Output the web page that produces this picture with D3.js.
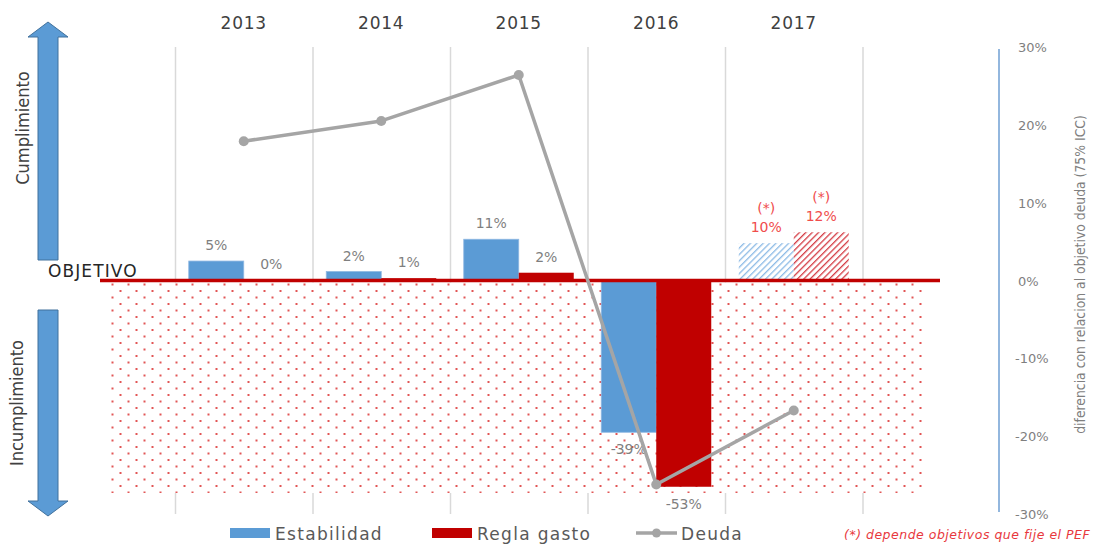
<!DOCTYPE html>
<html>
<head>
<meta charset="utf-8">
<script src="https://cdn.jsdelivr.net/npm/d3@7"></script>
<style>
  html, body { margin: 0; padding: 0; background: #fff; }
  svg { display: block; }
</style>
</head>
<body>
<div id="grafico"></div>
<script>
// datos
const anios = ["2013", "2014", "2015", "2016", "2017"];
const estabilidad = [5.0, 2.3, 10.6, -39, 9.6];
const reglaGasto = [0.1, 0.6, 2.0, -53, 12.4];
const deuda = [17.9, 20.5, 26.4, -26.2, -16.7];
const previsto = [false, false, false, false, true];
const ticksDeuda = [30, 20, 10, 0, -10, -20, -30];
const series = ["Estabilidad", "Regla gasto", "Deuda"];

const azul = "#5b9bd5";
const rojo = "#c00000";
const gris = "#a5a5a5";
const fuente = "'DejaVu Sans', sans-serif";
const fuenteEstrecha = "'Liberation Sans Narrow', 'DejaVu Sans Condensed', sans-serif";

const width = 1094, height = 547;

const svg = d3.select("#grafico")
    .append("svg")
    .attr("width", width)
    .attr("height", height);

const defs = svg.append("defs");

// patron de puntos (zona de incumplimiento)
const puntos = defs.append("pattern")
    .attr("id", "puntos")
    .attr("patternUnits", "userSpaceOnUse")
    .attr("x", 110).attr("y", 281)
    .attr("width", 16).attr("height", 13);
puntos.append("rect").attr("width", 16).attr("height", 13).attr("fill", "#fff");
puntos.append("rect").attr("x", 1.5).attr("y", 2.5).attr("width", 2).attr("height", 2).attr("fill", "#e25555");
puntos.append("rect").attr("x", 9.5).attr("y", 9).attr("width", 2).attr("height", 2).attr("fill", "#e25555");

// rayado para 2017
function rayado(id, color) {
    const p = defs.append("pattern")
        .attr("id", id)
        .attr("patternUnits", "userSpaceOnUse")
        .attr("width", 4.5).attr("height", 4.5)
        .attr("patternTransform", "rotate(45)");
    p.append("rect").attr("width", 4.5).attr("height", 4.5).attr("fill", "#fff");
    p.append("line").attr("x1", 0).attr("y1", 0).attr("x2", 0).attr("y2", 4.5)
        .attr("stroke", color).attr("stroke-width", 2.6);
}
rayado("rayaAzul", "#8dbbe6");
rayado("rayaRoja", "#d43c44");

const x = d3.scaleBand()
    .domain([...anios, ""])
    .range([175, 1000]);

const x1 = d3.scaleBand()
    .domain(["Estabilidad", "Regla gasto"])
    .range([0, x.bandwidth()])
    .paddingOuter(0.25);

const yBarras = d3.scaleLinear().domain([-60, 60]).range([514, 47]);
const yDeuda = d3.scaleLinear().domain([-30, 30]).range([514, 47]);

// lineas verticales
svg.append("g")
    .selectAll("line")
    .data(x.domain())
    .enter()
    .append("line")
    .attr("x1", d => x(d) + 0.5)
    .attr("x2", d => x(d) + 0.5)
    .attr("y1", yDeuda(30))
    .attr("y2", yDeuda(-30))
    .attr("stroke", "#d9d9d9")
    .attr("stroke-width", 1.5);

// zona de incumplimiento
svg.append("rect")
    .attr("x", 110)
    .attr("y", yDeuda(0) + 2)
    .attr("width", 815)
    .attr("height", yDeuda(-27.3) - yDeuda(0) - 2)
    .attr("fill", "url(#puntos)");

// barras
const datosBarras = [];
anios.forEach((a, i) => {
    datosBarras.push({ anio: a, serie: "Estabilidad", valor: estabilidad[i], previsto: previsto[i] });
    datosBarras.push({ anio: a, serie: "Regla gasto", valor: reglaGasto[i], previsto: previsto[i] });
});

function colorBarra(d) {
    if (d.previsto) return d.serie === "Estabilidad" ? "url(#rayaAzul)" : "url(#rayaRoja)";
    return d.serie === "Estabilidad" ? azul : rojo;
}

svg.append("g")
    .selectAll("rect")
    .data(datosBarras)
    .enter()
    .append("rect")
    .attr("x", d => x(d.anio) + x1(d.serie))
    .attr("y", d => yBarras(Math.max(0, d.valor)))
    .attr("width", x1.bandwidth())
    .attr("height", d => Math.abs(yBarras(d.valor) - yBarras(0)))
    .attr("fill", colorBarra)
    .attr("stroke", d => d.serie === "Estabilidad" && !d.previsto ? "#8fb8e2" : "none")
    .attr("stroke-width", 0.8);

// linea objetivo
svg.append("line")
    .attr("x1", 100)
    .attr("x2", 940)
    .attr("y1", yDeuda(0))
    .attr("y2", yDeuda(0))
    .attr("stroke", rojo)
    .attr("stroke-width", 3.5);

svg.append("text")
    .attr("x", 48)
    .attr("y", yDeuda(0) - 4)
    .attr("font-family", fuente)
    .attr("font-size", "17px")
    .attr("letter-spacing", "1.1px")
    .attr("fill", "#262626")
    .text("OBJETIVO");

// etiquetas de barras
const etiquetas = svg.append("g")
    .attr("font-family", fuente)
    .attr("font-size", "14px")
    .attr("text-anchor", "middle");

datosBarras.forEach(d => {
    const cx = x(d.anio) + x1(d.serie) + x1.bandwidth() / 2;
    const txt = Math.round(d.valor) + "%";
    const color = d.previsto ? "#f04c4c" : "#7f7f7f";
    let yTxt;
    if (d.valor >= 0) yTxt = yBarras(d.valor) - 11;
    else yTxt = yBarras(d.valor) + 22;
    etiquetas.append("text")
        .attr("x", cx)
        .attr("y", yTxt)
        .attr("fill", color)
        .text(txt);
    if (d.previsto) {
        etiquetas.append("text")
            .attr("x", cx)
            .attr("y", yTxt - 19)
            .attr("fill", color)
            .text("(*)");
    }
});

// linea deuda
const linea = d3.line()
    .x((d, i) => x(anios[i]) + x.bandwidth() / 2)
    .y(d => yDeuda(d));

svg.append("path")
    .datum(deuda)
    .attr("d", linea)
    .attr("fill", "none")
    .attr("stroke", gris)
    .attr("stroke-width", 3.5)
    .attr("stroke-linejoin", "round");

svg.append("g")
    .selectAll("circle")
    .data(deuda)
    .enter()
    .append("circle")
    .attr("cx", (d, i) => x(anios[i]) + x.bandwidth() / 2)
    .attr("cy", d => yDeuda(d))
    .attr("r", 5)
    .attr("fill", gris);

// anios arriba
svg.append("g")
    .selectAll("text")
    .data(anios)
    .enter()
    .append("text")
    .attr("x", d => x(d) + x.bandwidth() / 2)
    .attr("y", 29)
    .attr("text-anchor", "middle")
    .attr("font-family", fuente)
    .attr("font-size", "17px")
    .attr("letter-spacing", "0.8px")
    .attr("fill", "#404040")
    .text(d => d);

// eje derecho
svg.append("line")
    .attr("x1", 999).attr("x2", 999)
    .attr("y1", yDeuda(30) + 2).attr("y2", yDeuda(-30) - 2)
    .attr("stroke", "#6f9fd3")
    .attr("stroke-width", 1.5);

svg.append("g")
    .selectAll("text")
    .data(ticksDeuda)
    .enter()
    .append("text")
    .attr("x", d => d < 0 ? 1015 : 1018)
    .attr("y", d => yDeuda(d) + 5)
    .attr("font-family", fuente)
    .attr("font-size", "13px")
    .attr("fill", "#7f7f7f")
    .text(d => d + "%");

svg.append("text")
    .attr("transform", `translate(1085, ${yDeuda(0) - 6}) rotate(-90)`)
    .attr("text-anchor", "middle")
    .attr("font-family", fuenteEstrecha)
    .attr("font-size", "13.8px")
    .attr("fill", "#7f7f7f")
    .text("diferencia con relacion al objetivo deuda (75% ICC)");

// flechas
const flechaArriba = [[48, 22], [68, 37], [58, 37], [58, 260], [38, 260], [38, 37], [28, 37]];
const flechaAbajo = [[38, 310], [58, 310], [58, 501], [68, 501], [48, 516], [28, 501], [38, 501]];
svg.selectAll(".flecha")
    .data([flechaArriba, flechaAbajo])
    .enter()
    .append("polygon")
    .attr("class", "flecha")
    .attr("points", d => d.map(p => p.join(",")).join(" "))
    .attr("fill", azul)
    .attr("stroke", "#41719c")
    .attr("stroke-width", 1);

svg.append("text")
    .attr("transform", "translate(29, 128) rotate(-90)")
    .attr("text-anchor", "middle")
    .attr("font-family", fuenteEstrecha)
    .attr("font-size", "18px")
    .attr("fill", "#404040")
    .text("Cumplimiento");

svg.append("text")
    .attr("transform", "translate(23, 403) rotate(-90)")
    .attr("text-anchor", "middle")
    .attr("font-family", fuenteEstrecha)
    .attr("font-size", "18px")
    .attr("fill", "#404040")
    .text("Incumplimiento");

// leyenda
const leyenda = svg.append("g").attr("font-family", fuente).attr("font-size", "17px");
const leyX = [230, 432, 636];
series.forEach((s, i) => {
    const g = leyenda.append("g").attr("transform", `translate(${leyX[i]}, 533)`);
    if (s === "Deuda") {
        g.append("line").attr("x1", 0).attr("x2", 41).attr("y1", 0).attr("y2", 0)
            .attr("stroke", gris).attr("stroke-width", 3.5);
        g.append("circle").attr("cx", 20.5).attr("cy", 0).attr("r", 4.5).attr("fill", gris);
    } else {
        g.append("rect").attr("x", 0).attr("y", -5).attr("width", 40).attr("height", 10)
            .attr("fill", s === "Estabilidad" ? azul : rojo);
    }
    g.append("text")
        .attr("x", 45)
        .attr("y", 6.5)
        .attr("letter-spacing", "1.3px")
        .attr("fill", "#595959")
        .text(s);
});

svg.append("text")
    .attr("x", 844)
    .attr("y", 539)
    .attr("font-family", fuente)
    .attr("font-style", "italic")
    .attr("font-size", "12.5px")
    .attr("letter-spacing", "0.5px")
    .attr("fill", "#e8383d")
    .text("(*) depende objetivos que fije el PEF");
</script>
</body>
</html>
